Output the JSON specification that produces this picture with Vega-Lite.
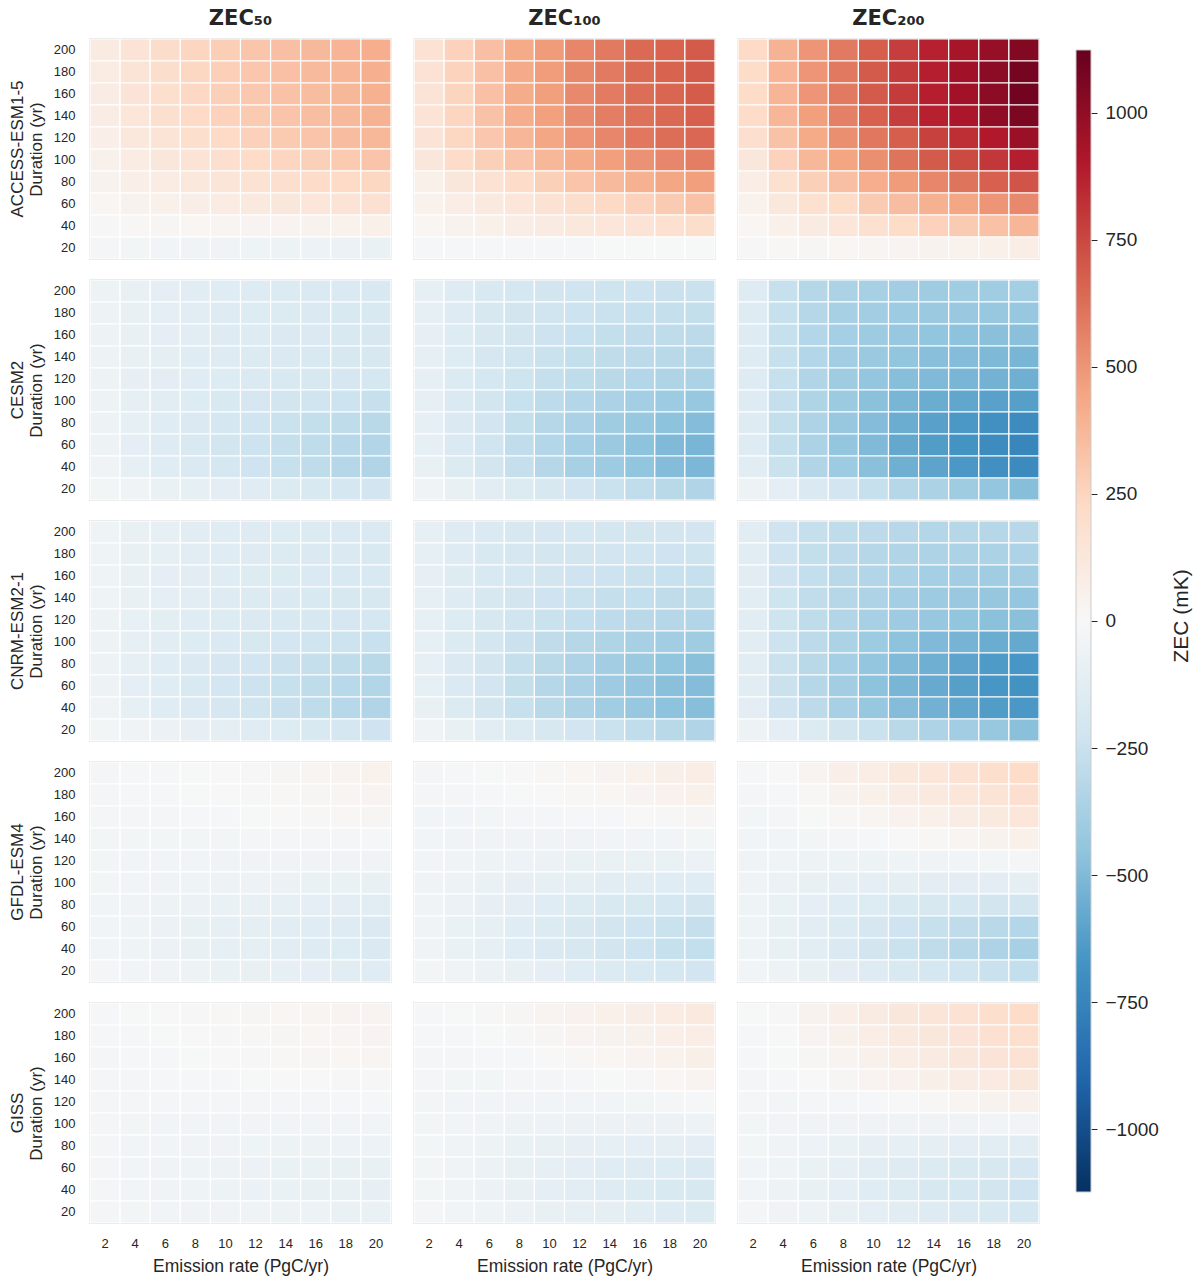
{
"$schema":"https://vega.github.io/schema/vega-lite/v6.json",
"padding":{"left":9,"top":8,"right":5,"bottom":5},
"background":"white",
"config":{"view":{"stroke":"#cccccc","strokeWidth":1.5},"font":"Liberation Sans","axis":{"labelFont":"Liberation Sans","titleFont":"Liberation Sans","labelColor":"#262626","titleColor":"#262626","titleFontWeight":"normal","grid":false}},
"spacing":34,
"hconcat":[
{
"data":{"values":[
{"p":1,"d":200,"e":2,"v":100},{"p":1,"d":200,"e":4,"v":160},{"p":1,"d":200,"e":6,"v":205},{"p":1,"d":200,"e":8,"v":245},{"p":1,"d":200,"e":10,"v":280},{"p":1,"d":200,"e":12,"v":315},{"p":1,"d":200,"e":14,"v":340},{"p":1,"d":200,"e":16,"v":365},{"p":1,"d":200,"e":18,"v":385},{"p":1,"d":200,"e":20,"v":410},
{"p":1,"d":180,"e":2,"v":95},{"p":1,"d":180,"e":4,"v":155},{"p":1,"d":180,"e":6,"v":200},{"p":1,"d":180,"e":8,"v":240},{"p":1,"d":180,"e":10,"v":275},{"p":1,"d":180,"e":12,"v":310},{"p":1,"d":180,"e":14,"v":335},{"p":1,"d":180,"e":16,"v":360},{"p":1,"d":180,"e":18,"v":380},{"p":1,"d":180,"e":20,"v":405},
{"p":1,"d":160,"e":2,"v":90},{"p":1,"d":160,"e":4,"v":150},{"p":1,"d":160,"e":6,"v":195},{"p":1,"d":160,"e":8,"v":235},{"p":1,"d":160,"e":10,"v":270},{"p":1,"d":160,"e":12,"v":305},{"p":1,"d":160,"e":14,"v":330},{"p":1,"d":160,"e":16,"v":355},{"p":1,"d":160,"e":18,"v":375},{"p":1,"d":160,"e":20,"v":400},
{"p":1,"d":140,"e":2,"v":85},{"p":1,"d":140,"e":4,"v":140},{"p":1,"d":140,"e":6,"v":185},{"p":1,"d":140,"e":8,"v":225},{"p":1,"d":140,"e":10,"v":260},{"p":1,"d":140,"e":12,"v":295},{"p":1,"d":140,"e":14,"v":320},{"p":1,"d":140,"e":16,"v":345},{"p":1,"d":140,"e":18,"v":365},{"p":1,"d":140,"e":20,"v":390},
{"p":1,"d":120,"e":2,"v":70},{"p":1,"d":120,"e":4,"v":120},{"p":1,"d":120,"e":6,"v":160},{"p":1,"d":120,"e":8,"v":195},{"p":1,"d":120,"e":10,"v":225},{"p":1,"d":120,"e":12,"v":265},{"p":1,"d":120,"e":14,"v":295},{"p":1,"d":120,"e":16,"v":320},{"p":1,"d":120,"e":18,"v":350},{"p":1,"d":120,"e":20,"v":370},
{"p":1,"d":100,"e":2,"v":55},{"p":1,"d":100,"e":4,"v":95},{"p":1,"d":100,"e":6,"v":130},{"p":1,"d":100,"e":8,"v":160},{"p":1,"d":100,"e":10,"v":190},{"p":1,"d":100,"e":12,"v":220},{"p":1,"d":100,"e":14,"v":245},{"p":1,"d":100,"e":16,"v":270},{"p":1,"d":100,"e":18,"v":295},{"p":1,"d":100,"e":20,"v":320},
{"p":1,"d":80,"e":2,"v":40},{"p":1,"d":80,"e":4,"v":70},{"p":1,"d":80,"e":6,"v":95},{"p":1,"d":80,"e":8,"v":120},{"p":1,"d":80,"e":10,"v":145},{"p":1,"d":80,"e":12,"v":170},{"p":1,"d":80,"e":14,"v":190},{"p":1,"d":80,"e":16,"v":210},{"p":1,"d":80,"e":18,"v":225},{"p":1,"d":80,"e":20,"v":240},
{"p":1,"d":60,"e":2,"v":20},{"p":1,"d":60,"e":4,"v":40},{"p":1,"d":60,"e":6,"v":60},{"p":1,"d":60,"e":8,"v":75},{"p":1,"d":60,"e":10,"v":95},{"p":1,"d":60,"e":12,"v":110},{"p":1,"d":60,"e":14,"v":125},{"p":1,"d":60,"e":16,"v":140},{"p":1,"d":60,"e":18,"v":160},{"p":1,"d":60,"e":20,"v":175},
{"p":1,"d":40,"e":2,"v":5},{"p":1,"d":40,"e":4,"v":10},{"p":1,"d":40,"e":6,"v":15},{"p":1,"d":40,"e":8,"v":20},{"p":1,"d":40,"e":10,"v":25},{"p":1,"d":40,"e":12,"v":30},{"p":1,"d":40,"e":14,"v":35},{"p":1,"d":40,"e":16,"v":40},{"p":1,"d":40,"e":18,"v":50},{"p":1,"d":40,"e":20,"v":60},
{"p":1,"d":20,"e":2,"v":-20},{"p":1,"d":20,"e":4,"v":-30},{"p":1,"d":20,"e":6,"v":-35},{"p":1,"d":20,"e":8,"v":-45},{"p":1,"d":20,"e":10,"v":-50},{"p":1,"d":20,"e":12,"v":-55},{"p":1,"d":20,"e":14,"v":-60},{"p":1,"d":20,"e":16,"v":-65},{"p":1,"d":20,"e":18,"v":-70},{"p":1,"d":20,"e":20,"v":-75},
{"p":2,"d":200,"e":2,"v":170},{"p":2,"d":200,"e":4,"v":260},{"p":2,"d":200,"e":6,"v":340},{"p":2,"d":200,"e":8,"v":430},{"p":2,"d":200,"e":10,"v":480},{"p":2,"d":200,"e":12,"v":550},{"p":2,"d":200,"e":14,"v":590},{"p":2,"d":200,"e":16,"v":640},{"p":2,"d":200,"e":18,"v":660},{"p":2,"d":200,"e":20,"v":690},
{"p":2,"d":180,"e":2,"v":165},{"p":2,"d":180,"e":4,"v":255},{"p":2,"d":180,"e":6,"v":335},{"p":2,"d":180,"e":8,"v":425},{"p":2,"d":180,"e":10,"v":475},{"p":2,"d":180,"e":12,"v":545},{"p":2,"d":180,"e":14,"v":590},{"p":2,"d":180,"e":16,"v":640},{"p":2,"d":180,"e":18,"v":660},{"p":2,"d":180,"e":20,"v":690},
{"p":2,"d":160,"e":2,"v":160},{"p":2,"d":160,"e":4,"v":250},{"p":2,"d":160,"e":6,"v":335},{"p":2,"d":160,"e":8,"v":420},{"p":2,"d":160,"e":10,"v":470},{"p":2,"d":160,"e":12,"v":540},{"p":2,"d":160,"e":14,"v":585},{"p":2,"d":160,"e":16,"v":630},{"p":2,"d":160,"e":18,"v":655},{"p":2,"d":160,"e":20,"v":685},
{"p":2,"d":140,"e":2,"v":155},{"p":2,"d":140,"e":4,"v":245},{"p":2,"d":140,"e":6,"v":330},{"p":2,"d":140,"e":8,"v":415},{"p":2,"d":140,"e":10,"v":465},{"p":2,"d":140,"e":12,"v":535},{"p":2,"d":140,"e":14,"v":575},{"p":2,"d":140,"e":16,"v":620},{"p":2,"d":140,"e":18,"v":645},{"p":2,"d":140,"e":20,"v":675},
{"p":2,"d":120,"e":2,"v":150},{"p":2,"d":120,"e":4,"v":240},{"p":2,"d":120,"e":6,"v":310},{"p":2,"d":120,"e":8,"v":380},{"p":2,"d":120,"e":10,"v":440},{"p":2,"d":120,"e":12,"v":500},{"p":2,"d":120,"e":14,"v":550},{"p":2,"d":120,"e":16,"v":600},{"p":2,"d":120,"e":18,"v":630},{"p":2,"d":120,"e":20,"v":650},
{"p":2,"d":100,"e":2,"v":130},{"p":2,"d":100,"e":4,"v":210},{"p":2,"d":100,"e":6,"v":270},{"p":2,"d":100,"e":8,"v":320},{"p":2,"d":100,"e":10,"v":370},{"p":2,"d":100,"e":12,"v":420},{"p":2,"d":100,"e":14,"v":470},{"p":2,"d":100,"e":16,"v":510},{"p":2,"d":100,"e":18,"v":550},{"p":2,"d":100,"e":20,"v":580},
{"p":2,"d":80,"e":2,"v":60},{"p":2,"d":80,"e":4,"v":130},{"p":2,"d":80,"e":6,"v":170},{"p":2,"d":80,"e":8,"v":210},{"p":2,"d":80,"e":10,"v":270},{"p":2,"d":80,"e":12,"v":320},{"p":2,"d":80,"e":14,"v":360},{"p":2,"d":80,"e":16,"v":400},{"p":2,"d":80,"e":18,"v":440},{"p":2,"d":80,"e":20,"v":470},
{"p":2,"d":60,"e":2,"v":50},{"p":2,"d":60,"e":4,"v":80},{"p":2,"d":60,"e":6,"v":110},{"p":2,"d":60,"e":8,"v":140},{"p":2,"d":60,"e":10,"v":170},{"p":2,"d":60,"e":12,"v":200},{"p":2,"d":60,"e":14,"v":230},{"p":2,"d":60,"e":16,"v":260},{"p":2,"d":60,"e":18,"v":290},{"p":2,"d":60,"e":20,"v":330},
{"p":2,"d":40,"e":2,"v":20},{"p":2,"d":40,"e":4,"v":40},{"p":2,"d":40,"e":6,"v":60},{"p":2,"d":40,"e":8,"v":80},{"p":2,"d":40,"e":10,"v":100},{"p":2,"d":40,"e":12,"v":120},{"p":2,"d":40,"e":14,"v":140},{"p":2,"d":40,"e":16,"v":160},{"p":2,"d":40,"e":18,"v":180},{"p":2,"d":40,"e":20,"v":200},
{"p":2,"d":20,"e":2,"v":-10},{"p":2,"d":20,"e":4,"v":-10},{"p":2,"d":20,"e":6,"v":-10},{"p":2,"d":20,"e":8,"v":-10},{"p":2,"d":20,"e":10,"v":-10},{"p":2,"d":20,"e":12,"v":-10},{"p":2,"d":20,"e":14,"v":-5},{"p":2,"d":20,"e":16,"v":-5},{"p":2,"d":20,"e":18,"v":-5},{"p":2,"d":20,"e":20,"v":-5},
{"p":3,"d":200,"e":2,"v":225},{"p":3,"d":200,"e":4,"v":390},{"p":3,"d":200,"e":6,"v":500},{"p":3,"d":200,"e":8,"v":590},{"p":3,"d":200,"e":10,"v":680},{"p":3,"d":200,"e":12,"v":780},{"p":3,"d":200,"e":14,"v":870},{"p":3,"d":200,"e":16,"v":930},{"p":3,"d":200,"e":18,"v":980},{"p":3,"d":200,"e":20,"v":1040},
{"p":3,"d":180,"e":2,"v":220},{"p":3,"d":180,"e":4,"v":385},{"p":3,"d":180,"e":6,"v":500},{"p":3,"d":180,"e":8,"v":595},{"p":3,"d":180,"e":10,"v":690},{"p":3,"d":180,"e":12,"v":790},{"p":3,"d":180,"e":14,"v":880},{"p":3,"d":180,"e":16,"v":950},{"p":3,"d":180,"e":18,"v":1010},{"p":3,"d":180,"e":20,"v":1080},
{"p":3,"d":160,"e":2,"v":220},{"p":3,"d":160,"e":4,"v":385},{"p":3,"d":160,"e":6,"v":500},{"p":3,"d":160,"e":8,"v":590},{"p":3,"d":160,"e":10,"v":690},{"p":3,"d":160,"e":12,"v":790},{"p":3,"d":160,"e":14,"v":880},{"p":3,"d":160,"e":16,"v":950},{"p":3,"d":160,"e":18,"v":1010},{"p":3,"d":160,"e":20,"v":1090},
{"p":3,"d":140,"e":2,"v":215},{"p":3,"d":140,"e":4,"v":380},{"p":3,"d":140,"e":6,"v":470},{"p":3,"d":140,"e":8,"v":570},{"p":3,"d":140,"e":10,"v":670},{"p":3,"d":140,"e":12,"v":780},{"p":3,"d":140,"e":14,"v":870},{"p":3,"d":140,"e":16,"v":920},{"p":3,"d":140,"e":18,"v":1000},{"p":3,"d":140,"e":20,"v":1060},
{"p":3,"d":120,"e":2,"v":190},{"p":3,"d":120,"e":4,"v":330},{"p":3,"d":120,"e":6,"v":430},{"p":3,"d":120,"e":8,"v":520},{"p":3,"d":120,"e":10,"v":600},{"p":3,"d":120,"e":12,"v":680},{"p":3,"d":120,"e":14,"v":770},{"p":3,"d":120,"e":16,"v":830},{"p":3,"d":120,"e":18,"v":900},{"p":3,"d":120,"e":20,"v":970},
{"p":3,"d":100,"e":2,"v":130},{"p":3,"d":100,"e":4,"v":260},{"p":3,"d":100,"e":6,"v":370},{"p":3,"d":100,"e":8,"v":450},{"p":3,"d":100,"e":10,"v":520},{"p":3,"d":100,"e":12,"v":610},{"p":3,"d":100,"e":14,"v":690},{"p":3,"d":100,"e":16,"v":740},{"p":3,"d":100,"e":18,"v":800},{"p":3,"d":100,"e":20,"v":880},
{"p":3,"d":80,"e":2,"v":80},{"p":3,"d":80,"e":4,"v":180},{"p":3,"d":80,"e":6,"v":270},{"p":3,"d":80,"e":8,"v":340},{"p":3,"d":80,"e":10,"v":410},{"p":3,"d":80,"e":12,"v":480},{"p":3,"d":80,"e":14,"v":550},{"p":3,"d":80,"e":16,"v":610},{"p":3,"d":80,"e":18,"v":670},{"p":3,"d":80,"e":20,"v":710},
{"p":3,"d":60,"e":2,"v":50},{"p":3,"d":60,"e":4,"v":120},{"p":3,"d":60,"e":6,"v":180},{"p":3,"d":60,"e":8,"v":220},{"p":3,"d":60,"e":10,"v":290},{"p":3,"d":60,"e":12,"v":350},{"p":3,"d":60,"e":14,"v":400},{"p":3,"d":60,"e":16,"v":440},{"p":3,"d":60,"e":18,"v":500},{"p":3,"d":60,"e":20,"v":540},
{"p":3,"d":40,"e":2,"v":20},{"p":3,"d":40,"e":4,"v":60},{"p":3,"d":40,"e":6,"v":100},{"p":3,"d":40,"e":8,"v":140},{"p":3,"d":40,"e":10,"v":180},{"p":3,"d":40,"e":12,"v":220},{"p":3,"d":40,"e":14,"v":260},{"p":3,"d":40,"e":16,"v":290},{"p":3,"d":40,"e":18,"v":330},{"p":3,"d":40,"e":20,"v":380},
{"p":3,"d":20,"e":2,"v":5},{"p":3,"d":20,"e":4,"v":10},{"p":3,"d":20,"e":6,"v":15},{"p":3,"d":20,"e":8,"v":20},{"p":3,"d":20,"e":10,"v":25},{"p":3,"d":20,"e":12,"v":30},{"p":3,"d":20,"e":14,"v":40},{"p":3,"d":20,"e":16,"v":50},{"p":3,"d":20,"e":18,"v":60},{"p":3,"d":20,"e":20,"v":80},
{"p":4,"d":200,"e":2,"v":-60},{"p":4,"d":200,"e":4,"v":-90},{"p":4,"d":200,"e":6,"v":-110},{"p":4,"d":200,"e":8,"v":-130},{"p":4,"d":200,"e":10,"v":-140},{"p":4,"d":200,"e":12,"v":-150},{"p":4,"d":200,"e":14,"v":-160},{"p":4,"d":200,"e":16,"v":-165},{"p":4,"d":200,"e":18,"v":-170},{"p":4,"d":200,"e":20,"v":-175},
{"p":4,"d":180,"e":2,"v":-60},{"p":4,"d":180,"e":4,"v":-90},{"p":4,"d":180,"e":6,"v":-110},{"p":4,"d":180,"e":8,"v":-130},{"p":4,"d":180,"e":10,"v":-145},{"p":4,"d":180,"e":12,"v":-155},{"p":4,"d":180,"e":14,"v":-160},{"p":4,"d":180,"e":16,"v":-170},{"p":4,"d":180,"e":18,"v":-175},{"p":4,"d":180,"e":20,"v":-180},
{"p":4,"d":160,"e":2,"v":-60},{"p":4,"d":160,"e":4,"v":-90},{"p":4,"d":160,"e":6,"v":-110},{"p":4,"d":160,"e":8,"v":-130},{"p":4,"d":160,"e":10,"v":-145},{"p":4,"d":160,"e":12,"v":-155},{"p":4,"d":160,"e":14,"v":-165},{"p":4,"d":160,"e":16,"v":-170},{"p":4,"d":160,"e":18,"v":-180},{"p":4,"d":160,"e":20,"v":-185},
{"p":4,"d":140,"e":2,"v":-60},{"p":4,"d":140,"e":4,"v":-90},{"p":4,"d":140,"e":6,"v":-115},{"p":4,"d":140,"e":8,"v":-135},{"p":4,"d":140,"e":10,"v":-150},{"p":4,"d":140,"e":12,"v":-160},{"p":4,"d":140,"e":14,"v":-170},{"p":4,"d":140,"e":16,"v":-180},{"p":4,"d":140,"e":18,"v":-185},{"p":4,"d":140,"e":20,"v":-190},
{"p":4,"d":120,"e":2,"v":-60},{"p":4,"d":120,"e":4,"v":-95},{"p":4,"d":120,"e":6,"v":-120},{"p":4,"d":120,"e":8,"v":-140},{"p":4,"d":120,"e":10,"v":-155},{"p":4,"d":120,"e":12,"v":-170},{"p":4,"d":120,"e":14,"v":-180},{"p":4,"d":120,"e":16,"v":-190},{"p":4,"d":120,"e":18,"v":-195},{"p":4,"d":120,"e":20,"v":-200},
{"p":4,"d":100,"e":2,"v":-60},{"p":4,"d":100,"e":4,"v":-100},{"p":4,"d":100,"e":6,"v":-130},{"p":4,"d":100,"e":8,"v":-155},{"p":4,"d":100,"e":10,"v":-175},{"p":4,"d":100,"e":12,"v":-195},{"p":4,"d":100,"e":14,"v":-210},{"p":4,"d":100,"e":16,"v":-225},{"p":4,"d":100,"e":18,"v":-240},{"p":4,"d":100,"e":20,"v":-260},
{"p":4,"d":80,"e":2,"v":-60},{"p":4,"d":80,"e":4,"v":-105},{"p":4,"d":80,"e":6,"v":-140},{"p":4,"d":80,"e":8,"v":-170},{"p":4,"d":80,"e":10,"v":-200},{"p":4,"d":80,"e":12,"v":-225},{"p":4,"d":80,"e":14,"v":-250},{"p":4,"d":80,"e":16,"v":-270},{"p":4,"d":80,"e":18,"v":-290},{"p":4,"d":80,"e":20,"v":-310},
{"p":4,"d":60,"e":2,"v":-60},{"p":4,"d":60,"e":4,"v":-110},{"p":4,"d":60,"e":6,"v":-145},{"p":4,"d":60,"e":8,"v":-180},{"p":4,"d":60,"e":10,"v":-210},{"p":4,"d":60,"e":12,"v":-240},{"p":4,"d":60,"e":14,"v":-265},{"p":4,"d":60,"e":16,"v":-290},{"p":4,"d":60,"e":18,"v":-315},{"p":4,"d":60,"e":20,"v":-335},
{"p":4,"d":40,"e":2,"v":-50},{"p":4,"d":40,"e":4,"v":-100},{"p":4,"d":40,"e":6,"v":-135},{"p":4,"d":40,"e":8,"v":-170},{"p":4,"d":40,"e":10,"v":-200},{"p":4,"d":40,"e":12,"v":-230},{"p":4,"d":40,"e":14,"v":-260},{"p":4,"d":40,"e":16,"v":-290},{"p":4,"d":40,"e":18,"v":-320},{"p":4,"d":40,"e":20,"v":-340},
{"p":4,"d":20,"e":2,"v":-30},{"p":4,"d":20,"e":4,"v":-50},{"p":4,"d":20,"e":6,"v":-75},{"p":4,"d":20,"e":8,"v":-100},{"p":4,"d":20,"e":10,"v":-120},{"p":4,"d":20,"e":12,"v":-140},{"p":4,"d":20,"e":14,"v":-160},{"p":4,"d":20,"e":16,"v":-180},{"p":4,"d":20,"e":18,"v":-200},{"p":4,"d":20,"e":20,"v":-220},
{"p":5,"d":200,"e":2,"v":-100},{"p":5,"d":200,"e":4,"v":-150},{"p":5,"d":200,"e":6,"v":-180},{"p":5,"d":200,"e":8,"v":-200},{"p":5,"d":200,"e":10,"v":-215},{"p":5,"d":200,"e":12,"v":-225},{"p":5,"d":200,"e":14,"v":-235},{"p":5,"d":200,"e":16,"v":-240},{"p":5,"d":200,"e":18,"v":-245},{"p":5,"d":200,"e":20,"v":-250},
{"p":5,"d":180,"e":2,"v":-100},{"p":5,"d":180,"e":4,"v":-150},{"p":5,"d":180,"e":6,"v":-185},{"p":5,"d":180,"e":8,"v":-210},{"p":5,"d":180,"e":10,"v":-225},{"p":5,"d":180,"e":12,"v":-240},{"p":5,"d":180,"e":14,"v":-250},{"p":5,"d":180,"e":16,"v":-260},{"p":5,"d":180,"e":18,"v":-265},{"p":5,"d":180,"e":20,"v":-270},
{"p":5,"d":160,"e":2,"v":-100},{"p":5,"d":160,"e":4,"v":-155},{"p":5,"d":160,"e":6,"v":-190},{"p":5,"d":160,"e":8,"v":-215},{"p":5,"d":160,"e":10,"v":-240},{"p":5,"d":160,"e":12,"v":-255},{"p":5,"d":160,"e":14,"v":-270},{"p":5,"d":160,"e":16,"v":-280},{"p":5,"d":160,"e":18,"v":-290},{"p":5,"d":160,"e":20,"v":-300},
{"p":5,"d":140,"e":2,"v":-100},{"p":5,"d":140,"e":4,"v":-155},{"p":5,"d":140,"e":6,"v":-195},{"p":5,"d":140,"e":8,"v":-225},{"p":5,"d":140,"e":10,"v":-250},{"p":5,"d":140,"e":12,"v":-270},{"p":5,"d":140,"e":14,"v":-285},{"p":5,"d":140,"e":16,"v":-300},{"p":5,"d":140,"e":18,"v":-310},{"p":5,"d":140,"e":20,"v":-320},
{"p":5,"d":120,"e":2,"v":-100},{"p":5,"d":120,"e":4,"v":-160},{"p":5,"d":120,"e":6,"v":-200},{"p":5,"d":120,"e":8,"v":-235},{"p":5,"d":120,"e":10,"v":-265},{"p":5,"d":120,"e":12,"v":-290},{"p":5,"d":120,"e":14,"v":-310},{"p":5,"d":120,"e":16,"v":-330},{"p":5,"d":120,"e":18,"v":-345},{"p":5,"d":120,"e":20,"v":-360},
{"p":5,"d":100,"e":2,"v":-100},{"p":5,"d":100,"e":4,"v":-165},{"p":5,"d":100,"e":6,"v":-210},{"p":5,"d":100,"e":8,"v":-255},{"p":5,"d":100,"e":10,"v":-295},{"p":5,"d":100,"e":12,"v":-330},{"p":5,"d":100,"e":14,"v":-360},{"p":5,"d":100,"e":16,"v":-385},{"p":5,"d":100,"e":18,"v":-410},{"p":5,"d":100,"e":20,"v":-430},
{"p":5,"d":80,"e":2,"v":-100},{"p":5,"d":80,"e":4,"v":-170},{"p":5,"d":80,"e":6,"v":-220},{"p":5,"d":80,"e":8,"v":-270},{"p":5,"d":80,"e":10,"v":-320},{"p":5,"d":80,"e":12,"v":-365},{"p":5,"d":80,"e":14,"v":-400},{"p":5,"d":80,"e":16,"v":-430},{"p":5,"d":80,"e":18,"v":-460},{"p":5,"d":80,"e":20,"v":-490},
{"p":5,"d":60,"e":2,"v":-100},{"p":5,"d":60,"e":4,"v":-170},{"p":5,"d":60,"e":6,"v":-225},{"p":5,"d":60,"e":8,"v":-280},{"p":5,"d":60,"e":10,"v":-330},{"p":5,"d":60,"e":12,"v":-380},{"p":5,"d":60,"e":14,"v":-420},{"p":5,"d":60,"e":16,"v":-460},{"p":5,"d":60,"e":18,"v":-500},{"p":5,"d":60,"e":20,"v":-520},
{"p":5,"d":40,"e":2,"v":-90},{"p":5,"d":40,"e":4,"v":-160},{"p":5,"d":40,"e":6,"v":-215},{"p":5,"d":40,"e":8,"v":-265},{"p":5,"d":40,"e":10,"v":-320},{"p":5,"d":40,"e":12,"v":-370},{"p":5,"d":40,"e":14,"v":-410},{"p":5,"d":40,"e":16,"v":-450},{"p":5,"d":40,"e":18,"v":-490},{"p":5,"d":40,"e":20,"v":-510},
{"p":5,"d":20,"e":2,"v":-50},{"p":5,"d":20,"e":4,"v":-90},{"p":5,"d":20,"e":6,"v":-130},{"p":5,"d":20,"e":8,"v":-160},{"p":5,"d":20,"e":10,"v":-190},{"p":5,"d":20,"e":12,"v":-220},{"p":5,"d":20,"e":14,"v":-250},{"p":5,"d":20,"e":16,"v":-280},{"p":5,"d":20,"e":18,"v":-310},{"p":5,"d":20,"e":20,"v":-340},
{"p":6,"d":200,"e":2,"v":-150},{"p":6,"d":200,"e":4,"v":-260},{"p":6,"d":200,"e":6,"v":-320},{"p":6,"d":200,"e":8,"v":-360},{"p":6,"d":200,"e":10,"v":-375},{"p":6,"d":200,"e":12,"v":-390},{"p":6,"d":200,"e":14,"v":-400},{"p":6,"d":200,"e":16,"v":-395},{"p":6,"d":200,"e":18,"v":-395},{"p":6,"d":200,"e":20,"v":-385},
{"p":6,"d":180,"e":2,"v":-150},{"p":6,"d":180,"e":4,"v":-260},{"p":6,"d":180,"e":6,"v":-325},{"p":6,"d":180,"e":8,"v":-370},{"p":6,"d":180,"e":10,"v":-390},{"p":6,"d":180,"e":12,"v":-410},{"p":6,"d":180,"e":14,"v":-420},{"p":6,"d":180,"e":16,"v":-425},{"p":6,"d":180,"e":18,"v":-430},{"p":6,"d":180,"e":20,"v":-430},
{"p":6,"d":160,"e":2,"v":-150},{"p":6,"d":160,"e":4,"v":-260},{"p":6,"d":160,"e":6,"v":-330},{"p":6,"d":160,"e":8,"v":-380},{"p":6,"d":160,"e":10,"v":-410},{"p":6,"d":160,"e":12,"v":-430},{"p":6,"d":160,"e":14,"v":-450},{"p":6,"d":160,"e":16,"v":-460},{"p":6,"d":160,"e":18,"v":-470},{"p":6,"d":160,"e":20,"v":-470},
{"p":6,"d":140,"e":2,"v":-150},{"p":6,"d":140,"e":4,"v":-260},{"p":6,"d":140,"e":6,"v":-330},{"p":6,"d":140,"e":8,"v":-390},{"p":6,"d":140,"e":10,"v":-420},{"p":6,"d":140,"e":12,"v":-450},{"p":6,"d":140,"e":14,"v":-475},{"p":6,"d":140,"e":16,"v":-490},{"p":6,"d":140,"e":18,"v":-505},{"p":6,"d":140,"e":20,"v":-520},
{"p":6,"d":120,"e":2,"v":-150},{"p":6,"d":120,"e":4,"v":-260},{"p":6,"d":120,"e":6,"v":-340},{"p":6,"d":120,"e":8,"v":-400},{"p":6,"d":120,"e":10,"v":-440},{"p":6,"d":120,"e":12,"v":-480},{"p":6,"d":120,"e":14,"v":-500},{"p":6,"d":120,"e":16,"v":-520},{"p":6,"d":120,"e":18,"v":-535},{"p":6,"d":120,"e":20,"v":-550},
{"p":6,"d":100,"e":2,"v":-150},{"p":6,"d":100,"e":4,"v":-265},{"p":6,"d":100,"e":6,"v":-345},{"p":6,"d":100,"e":8,"v":-415},{"p":6,"d":100,"e":10,"v":-465},{"p":6,"d":100,"e":12,"v":-520},{"p":6,"d":100,"e":14,"v":-560},{"p":6,"d":100,"e":16,"v":-590},{"p":6,"d":100,"e":18,"v":-610},{"p":6,"d":100,"e":20,"v":-620},
{"p":6,"d":80,"e":2,"v":-150},{"p":6,"d":80,"e":4,"v":-270},{"p":6,"d":80,"e":6,"v":-350},{"p":6,"d":80,"e":8,"v":-430},{"p":6,"d":80,"e":10,"v":-490},{"p":6,"d":80,"e":12,"v":-560},{"p":6,"d":80,"e":14,"v":-610},{"p":6,"d":80,"e":16,"v":-650},{"p":6,"d":80,"e":18,"v":-690},{"p":6,"d":80,"e":20,"v":-710},
{"p":6,"d":60,"e":2,"v":-150},{"p":6,"d":60,"e":4,"v":-270},{"p":6,"d":60,"e":6,"v":-355},{"p":6,"d":60,"e":8,"v":-440},{"p":6,"d":60,"e":10,"v":-500},{"p":6,"d":60,"e":12,"v":-580},{"p":6,"d":60,"e":14,"v":-630},{"p":6,"d":60,"e":16,"v":-670},{"p":6,"d":60,"e":18,"v":-710},{"p":6,"d":60,"e":20,"v":-740},
{"p":6,"d":40,"e":2,"v":-130},{"p":6,"d":40,"e":4,"v":-250},{"p":6,"d":40,"e":6,"v":-340},{"p":6,"d":40,"e":8,"v":-410},{"p":6,"d":40,"e":10,"v":-470},{"p":6,"d":40,"e":12,"v":-550},{"p":6,"d":40,"e":14,"v":-600},{"p":6,"d":40,"e":16,"v":-650},{"p":6,"d":40,"e":18,"v":-690},{"p":6,"d":40,"e":20,"v":-720},
{"p":6,"d":20,"e":2,"v":-60},{"p":6,"d":20,"e":4,"v":-110},{"p":6,"d":20,"e":6,"v":-170},{"p":6,"d":20,"e":8,"v":-220},{"p":6,"d":20,"e":10,"v":-260},{"p":6,"d":20,"e":12,"v":-320},{"p":6,"d":20,"e":14,"v":-360},{"p":6,"d":20,"e":16,"v":-400},{"p":6,"d":20,"e":18,"v":-440},{"p":6,"d":20,"e":20,"v":-480},
{"p":7,"d":200,"e":2,"v":-55},{"p":7,"d":200,"e":4,"v":-85},{"p":7,"d":200,"e":6,"v":-105},{"p":7,"d":200,"e":8,"v":-125},{"p":7,"d":200,"e":10,"v":-135},{"p":7,"d":200,"e":12,"v":-145},{"p":7,"d":200,"e":14,"v":-155},{"p":7,"d":200,"e":16,"v":-160},{"p":7,"d":200,"e":18,"v":-165},{"p":7,"d":200,"e":20,"v":-170},
{"p":7,"d":180,"e":2,"v":-55},{"p":7,"d":180,"e":4,"v":-85},{"p":7,"d":180,"e":6,"v":-105},{"p":7,"d":180,"e":8,"v":-125},{"p":7,"d":180,"e":10,"v":-140},{"p":7,"d":180,"e":12,"v":-150},{"p":7,"d":180,"e":14,"v":-158},{"p":7,"d":180,"e":16,"v":-165},{"p":7,"d":180,"e":18,"v":-170},{"p":7,"d":180,"e":20,"v":-175},
{"p":7,"d":160,"e":2,"v":-55},{"p":7,"d":160,"e":4,"v":-85},{"p":7,"d":160,"e":6,"v":-108},{"p":7,"d":160,"e":8,"v":-128},{"p":7,"d":160,"e":10,"v":-142},{"p":7,"d":160,"e":12,"v":-152},{"p":7,"d":160,"e":14,"v":-162},{"p":7,"d":160,"e":16,"v":-168},{"p":7,"d":160,"e":18,"v":-175},{"p":7,"d":160,"e":20,"v":-180},
{"p":7,"d":140,"e":2,"v":-55},{"p":7,"d":140,"e":4,"v":-88},{"p":7,"d":140,"e":6,"v":-112},{"p":7,"d":140,"e":8,"v":-132},{"p":7,"d":140,"e":10,"v":-148},{"p":7,"d":140,"e":12,"v":-158},{"p":7,"d":140,"e":14,"v":-168},{"p":7,"d":140,"e":16,"v":-175},{"p":7,"d":140,"e":18,"v":-182},{"p":7,"d":140,"e":20,"v":-188},
{"p":7,"d":120,"e":2,"v":-58},{"p":7,"d":120,"e":4,"v":-92},{"p":7,"d":120,"e":6,"v":-118},{"p":7,"d":120,"e":8,"v":-138},{"p":7,"d":120,"e":10,"v":-155},{"p":7,"d":120,"e":12,"v":-168},{"p":7,"d":120,"e":14,"v":-178},{"p":7,"d":120,"e":16,"v":-188},{"p":7,"d":120,"e":18,"v":-195},{"p":7,"d":120,"e":20,"v":-200},
{"p":7,"d":100,"e":2,"v":-60},{"p":7,"d":100,"e":4,"v":-98},{"p":7,"d":100,"e":6,"v":-128},{"p":7,"d":100,"e":8,"v":-152},{"p":7,"d":100,"e":10,"v":-172},{"p":7,"d":100,"e":12,"v":-192},{"p":7,"d":100,"e":14,"v":-208},{"p":7,"d":100,"e":16,"v":-222},{"p":7,"d":100,"e":18,"v":-238},{"p":7,"d":100,"e":20,"v":-255},
{"p":7,"d":80,"e":2,"v":-60},{"p":7,"d":80,"e":4,"v":-103},{"p":7,"d":80,"e":6,"v":-138},{"p":7,"d":80,"e":8,"v":-168},{"p":7,"d":80,"e":10,"v":-195},{"p":7,"d":80,"e":12,"v":-220},{"p":7,"d":80,"e":14,"v":-245},{"p":7,"d":80,"e":16,"v":-268},{"p":7,"d":80,"e":18,"v":-290},{"p":7,"d":80,"e":20,"v":-310},
{"p":7,"d":60,"e":2,"v":-60},{"p":7,"d":60,"e":4,"v":-108},{"p":7,"d":60,"e":6,"v":-143},{"p":7,"d":60,"e":8,"v":-178},{"p":7,"d":60,"e":10,"v":-208},{"p":7,"d":60,"e":12,"v":-238},{"p":7,"d":60,"e":14,"v":-262},{"p":7,"d":60,"e":16,"v":-288},{"p":7,"d":60,"e":18,"v":-312},{"p":7,"d":60,"e":20,"v":-335},
{"p":7,"d":40,"e":2,"v":-50},{"p":7,"d":40,"e":4,"v":-98},{"p":7,"d":40,"e":6,"v":-133},{"p":7,"d":40,"e":8,"v":-168},{"p":7,"d":40,"e":10,"v":-198},{"p":7,"d":40,"e":12,"v":-228},{"p":7,"d":40,"e":14,"v":-258},{"p":7,"d":40,"e":16,"v":-288},{"p":7,"d":40,"e":18,"v":-318},{"p":7,"d":40,"e":20,"v":-340},
{"p":7,"d":20,"e":2,"v":-28},{"p":7,"d":20,"e":4,"v":-48},{"p":7,"d":20,"e":6,"v":-72},{"p":7,"d":20,"e":8,"v":-95},{"p":7,"d":20,"e":10,"v":-115},{"p":7,"d":20,"e":12,"v":-135},{"p":7,"d":20,"e":14,"v":-155},{"p":7,"d":20,"e":16,"v":-175},{"p":7,"d":20,"e":18,"v":-200},{"p":7,"d":20,"e":20,"v":-230},
{"p":8,"d":200,"e":2,"v":-100},{"p":8,"d":200,"e":4,"v":-145},{"p":8,"d":200,"e":6,"v":-170},{"p":8,"d":200,"e":8,"v":-185},{"p":8,"d":200,"e":10,"v":-195},{"p":8,"d":200,"e":12,"v":-200},{"p":8,"d":200,"e":14,"v":-205},{"p":8,"d":200,"e":16,"v":-210},{"p":8,"d":200,"e":18,"v":-215},{"p":8,"d":200,"e":20,"v":-220},
{"p":8,"d":180,"e":2,"v":-100},{"p":8,"d":180,"e":4,"v":-150},{"p":8,"d":180,"e":6,"v":-175},{"p":8,"d":180,"e":8,"v":-195},{"p":8,"d":180,"e":10,"v":-205},{"p":8,"d":180,"e":12,"v":-215},{"p":8,"d":180,"e":14,"v":-220},{"p":8,"d":180,"e":16,"v":-225},{"p":8,"d":180,"e":18,"v":-230},{"p":8,"d":180,"e":20,"v":-235},
{"p":8,"d":160,"e":2,"v":-100},{"p":8,"d":160,"e":4,"v":-150},{"p":8,"d":160,"e":6,"v":-180},{"p":8,"d":160,"e":8,"v":-200},{"p":8,"d":160,"e":10,"v":-215},{"p":8,"d":160,"e":12,"v":-230},{"p":8,"d":160,"e":14,"v":-240},{"p":8,"d":160,"e":16,"v":-250},{"p":8,"d":160,"e":18,"v":-255},{"p":8,"d":160,"e":20,"v":-260},
{"p":8,"d":140,"e":2,"v":-100},{"p":8,"d":140,"e":4,"v":-150},{"p":8,"d":140,"e":6,"v":-185},{"p":8,"d":140,"e":8,"v":-210},{"p":8,"d":140,"e":10,"v":-230},{"p":8,"d":140,"e":12,"v":-250},{"p":8,"d":140,"e":14,"v":-265},{"p":8,"d":140,"e":16,"v":-275},{"p":8,"d":140,"e":18,"v":-285},{"p":8,"d":140,"e":20,"v":-290},
{"p":8,"d":120,"e":2,"v":-100},{"p":8,"d":120,"e":4,"v":-155},{"p":8,"d":120,"e":6,"v":-190},{"p":8,"d":120,"e":8,"v":-225},{"p":8,"d":120,"e":10,"v":-250},{"p":8,"d":120,"e":12,"v":-275},{"p":8,"d":120,"e":14,"v":-295},{"p":8,"d":120,"e":16,"v":-310},{"p":8,"d":120,"e":18,"v":-325},{"p":8,"d":120,"e":20,"v":-335},
{"p":8,"d":100,"e":2,"v":-100},{"p":8,"d":100,"e":4,"v":-160},{"p":8,"d":100,"e":6,"v":-205},{"p":8,"d":100,"e":8,"v":-245},{"p":8,"d":100,"e":10,"v":-285},{"p":8,"d":100,"e":12,"v":-320},{"p":8,"d":100,"e":14,"v":-345},{"p":8,"d":100,"e":16,"v":-370},{"p":8,"d":100,"e":18,"v":-390},{"p":8,"d":100,"e":20,"v":-400},
{"p":8,"d":80,"e":2,"v":-100},{"p":8,"d":80,"e":4,"v":-165},{"p":8,"d":80,"e":6,"v":-215},{"p":8,"d":80,"e":8,"v":-265},{"p":8,"d":80,"e":10,"v":-310},{"p":8,"d":80,"e":12,"v":-350},{"p":8,"d":80,"e":14,"v":-390},{"p":8,"d":80,"e":16,"v":-420},{"p":8,"d":80,"e":18,"v":-450},{"p":8,"d":80,"e":20,"v":-470},
{"p":8,"d":60,"e":2,"v":-100},{"p":8,"d":60,"e":4,"v":-165},{"p":8,"d":60,"e":6,"v":-220},{"p":8,"d":60,"e":8,"v":-270},{"p":8,"d":60,"e":10,"v":-320},{"p":8,"d":60,"e":12,"v":-365},{"p":8,"d":60,"e":14,"v":-405},{"p":8,"d":60,"e":16,"v":-440},{"p":8,"d":60,"e":18,"v":-470},{"p":8,"d":60,"e":20,"v":-490},
{"p":8,"d":40,"e":2,"v":-90},{"p":8,"d":40,"e":4,"v":-160},{"p":8,"d":40,"e":6,"v":-210},{"p":8,"d":40,"e":8,"v":-260},{"p":8,"d":40,"e":10,"v":-310},{"p":8,"d":40,"e":12,"v":-355},{"p":8,"d":40,"e":14,"v":-395},{"p":8,"d":40,"e":16,"v":-430},{"p":8,"d":40,"e":18,"v":-460},{"p":8,"d":40,"e":20,"v":-480},
{"p":8,"d":20,"e":2,"v":-50},{"p":8,"d":20,"e":4,"v":-90},{"p":8,"d":20,"e":6,"v":-130},{"p":8,"d":20,"e":8,"v":-160},{"p":8,"d":20,"e":10,"v":-190},{"p":8,"d":20,"e":12,"v":-220},{"p":8,"d":20,"e":14,"v":-250},{"p":8,"d":20,"e":16,"v":-280},{"p":8,"d":20,"e":18,"v":-310},{"p":8,"d":20,"e":20,"v":-340},
{"p":9,"d":200,"e":2,"v":-130},{"p":9,"d":200,"e":4,"v":-230},{"p":9,"d":200,"e":6,"v":-265},{"p":9,"d":200,"e":8,"v":-290},{"p":9,"d":200,"e":10,"v":-300},{"p":9,"d":200,"e":12,"v":-315},{"p":9,"d":200,"e":14,"v":-330},{"p":9,"d":200,"e":16,"v":-325},{"p":9,"d":200,"e":18,"v":-325},{"p":9,"d":200,"e":20,"v":-315},
{"p":9,"d":180,"e":2,"v":-130},{"p":9,"d":180,"e":4,"v":-230},{"p":9,"d":180,"e":6,"v":-270},{"p":9,"d":180,"e":8,"v":-300},{"p":9,"d":180,"e":10,"v":-320},{"p":9,"d":180,"e":12,"v":-340},{"p":9,"d":180,"e":14,"v":-350},{"p":9,"d":180,"e":16,"v":-355},{"p":9,"d":180,"e":18,"v":-355},{"p":9,"d":180,"e":20,"v":-350},
{"p":9,"d":160,"e":2,"v":-130},{"p":9,"d":160,"e":4,"v":-230},{"p":9,"d":160,"e":6,"v":-275},{"p":9,"d":160,"e":8,"v":-310},{"p":9,"d":160,"e":10,"v":-335},{"p":9,"d":160,"e":12,"v":-360},{"p":9,"d":160,"e":14,"v":-380},{"p":9,"d":160,"e":16,"v":-390},{"p":9,"d":160,"e":18,"v":-395},{"p":9,"d":160,"e":20,"v":-390},
{"p":9,"d":140,"e":2,"v":-130},{"p":9,"d":140,"e":4,"v":-235},{"p":9,"d":140,"e":6,"v":-280},{"p":9,"d":140,"e":8,"v":-320},{"p":9,"d":140,"e":10,"v":-350},{"p":9,"d":140,"e":12,"v":-385},{"p":9,"d":140,"e":14,"v":-410},{"p":9,"d":140,"e":16,"v":-425},{"p":9,"d":140,"e":18,"v":-435},{"p":9,"d":140,"e":20,"v":-440},
{"p":9,"d":120,"e":2,"v":-130},{"p":9,"d":120,"e":4,"v":-235},{"p":9,"d":120,"e":6,"v":-290},{"p":9,"d":120,"e":8,"v":-335},{"p":9,"d":120,"e":10,"v":-370},{"p":9,"d":120,"e":12,"v":-405},{"p":9,"d":120,"e":14,"v":-430},{"p":9,"d":120,"e":16,"v":-450},{"p":9,"d":120,"e":18,"v":-465},{"p":9,"d":120,"e":20,"v":-470},
{"p":9,"d":100,"e":2,"v":-130},{"p":9,"d":100,"e":4,"v":-240},{"p":9,"d":100,"e":6,"v":-300},{"p":9,"d":100,"e":8,"v":-360},{"p":9,"d":100,"e":10,"v":-410},{"p":9,"d":100,"e":12,"v":-460},{"p":9,"d":100,"e":14,"v":-500},{"p":9,"d":100,"e":16,"v":-530},{"p":9,"d":100,"e":18,"v":-560},{"p":9,"d":100,"e":20,"v":-575},
{"p":9,"d":80,"e":2,"v":-130},{"p":9,"d":80,"e":4,"v":-245},{"p":9,"d":80,"e":6,"v":-310},{"p":9,"d":80,"e":8,"v":-380},{"p":9,"d":80,"e":10,"v":-440},{"p":9,"d":80,"e":12,"v":-500},{"p":9,"d":80,"e":14,"v":-550},{"p":9,"d":80,"e":16,"v":-600},{"p":9,"d":80,"e":18,"v":-640},{"p":9,"d":80,"e":20,"v":-660},
{"p":9,"d":60,"e":2,"v":-130},{"p":9,"d":60,"e":4,"v":-245},{"p":9,"d":60,"e":6,"v":-320},{"p":9,"d":60,"e":8,"v":-390},{"p":9,"d":60,"e":10,"v":-460},{"p":9,"d":60,"e":12,"v":-520},{"p":9,"d":60,"e":14,"v":-570},{"p":9,"d":60,"e":16,"v":-620},{"p":9,"d":60,"e":18,"v":-660},{"p":9,"d":60,"e":20,"v":-680},
{"p":9,"d":40,"e":2,"v":-120},{"p":9,"d":40,"e":4,"v":-230},{"p":9,"d":40,"e":6,"v":-300},{"p":9,"d":40,"e":8,"v":-370},{"p":9,"d":40,"e":10,"v":-430},{"p":9,"d":40,"e":12,"v":-490},{"p":9,"d":40,"e":14,"v":-540},{"p":9,"d":40,"e":16,"v":-590},{"p":9,"d":40,"e":18,"v":-630},{"p":9,"d":40,"e":20,"v":-650},
{"p":9,"d":20,"e":2,"v":-60},{"p":9,"d":20,"e":4,"v":-110},{"p":9,"d":20,"e":6,"v":-160},{"p":9,"d":20,"e":8,"v":-210},{"p":9,"d":20,"e":10,"v":-250},{"p":9,"d":20,"e":12,"v":-310},{"p":9,"d":20,"e":14,"v":-350},{"p":9,"d":20,"e":16,"v":-390},{"p":9,"d":20,"e":18,"v":-430},{"p":9,"d":20,"e":20,"v":-470},
{"p":10,"d":200,"e":2,"v":-20},{"p":10,"d":200,"e":4,"v":-15},{"p":10,"d":200,"e":6,"v":-10},{"p":10,"d":200,"e":8,"v":-5},{"p":10,"d":200,"e":10,"v":0},{"p":10,"d":200,"e":12,"v":5},{"p":10,"d":200,"e":14,"v":15},{"p":10,"d":200,"e":16,"v":25},{"p":10,"d":200,"e":18,"v":35},{"p":10,"d":200,"e":20,"v":50},
{"p":10,"d":180,"e":2,"v":-20},{"p":10,"d":180,"e":4,"v":-15},{"p":10,"d":180,"e":6,"v":-10},{"p":10,"d":180,"e":8,"v":-5},{"p":10,"d":180,"e":10,"v":0},{"p":10,"d":180,"e":12,"v":5},{"p":10,"d":180,"e":14,"v":10},{"p":10,"d":180,"e":16,"v":15},{"p":10,"d":180,"e":18,"v":25},{"p":10,"d":180,"e":20,"v":35},
{"p":10,"d":160,"e":2,"v":-25},{"p":10,"d":160,"e":4,"v":-25},{"p":10,"d":160,"e":6,"v":-20},{"p":10,"d":160,"e":8,"v":-15},{"p":10,"d":160,"e":10,"v":-10},{"p":10,"d":160,"e":12,"v":-5},{"p":10,"d":160,"e":14,"v":0},{"p":10,"d":160,"e":16,"v":5},{"p":10,"d":160,"e":18,"v":10},{"p":10,"d":160,"e":20,"v":15},
{"p":10,"d":140,"e":2,"v":-30},{"p":10,"d":140,"e":4,"v":-30},{"p":10,"d":140,"e":6,"v":-30},{"p":10,"d":140,"e":8,"v":-30},{"p":10,"d":140,"e":10,"v":-30},{"p":10,"d":140,"e":12,"v":-25},{"p":10,"d":140,"e":14,"v":-25},{"p":10,"d":140,"e":16,"v":-20},{"p":10,"d":140,"e":18,"v":-20},{"p":10,"d":140,"e":20,"v":-15},
{"p":10,"d":120,"e":2,"v":-30},{"p":10,"d":120,"e":4,"v":-35},{"p":10,"d":120,"e":6,"v":-40},{"p":10,"d":120,"e":8,"v":-40},{"p":10,"d":120,"e":10,"v":-45},{"p":10,"d":120,"e":12,"v":-45},{"p":10,"d":120,"e":14,"v":-45},{"p":10,"d":120,"e":16,"v":-45},{"p":10,"d":120,"e":18,"v":-45},{"p":10,"d":120,"e":20,"v":-45},
{"p":10,"d":100,"e":2,"v":-30},{"p":10,"d":100,"e":4,"v":-40},{"p":10,"d":100,"e":6,"v":-50},{"p":10,"d":100,"e":8,"v":-55},{"p":10,"d":100,"e":10,"v":-60},{"p":10,"d":100,"e":12,"v":-65},{"p":10,"d":100,"e":14,"v":-70},{"p":10,"d":100,"e":16,"v":-75},{"p":10,"d":100,"e":18,"v":-80},{"p":10,"d":100,"e":20,"v":-85},
{"p":10,"d":80,"e":2,"v":-35},{"p":10,"d":80,"e":4,"v":-50},{"p":10,"d":80,"e":6,"v":-60},{"p":10,"d":80,"e":8,"v":-70},{"p":10,"d":80,"e":10,"v":-80},{"p":10,"d":80,"e":12,"v":-90},{"p":10,"d":80,"e":14,"v":-100},{"p":10,"d":80,"e":16,"v":-110},{"p":10,"d":80,"e":18,"v":-120},{"p":10,"d":80,"e":20,"v":-130},
{"p":10,"d":60,"e":2,"v":-35},{"p":10,"d":60,"e":4,"v":-55},{"p":10,"d":60,"e":6,"v":-70},{"p":10,"d":60,"e":8,"v":-85},{"p":10,"d":60,"e":10,"v":-100},{"p":10,"d":60,"e":12,"v":-115},{"p":10,"d":60,"e":14,"v":-130},{"p":10,"d":60,"e":16,"v":-140},{"p":10,"d":60,"e":18,"v":-150},{"p":10,"d":60,"e":20,"v":-165},
{"p":10,"d":40,"e":2,"v":-35},{"p":10,"d":40,"e":4,"v":-55},{"p":10,"d":40,"e":6,"v":-70},{"p":10,"d":40,"e":8,"v":-85},{"p":10,"d":40,"e":10,"v":-100},{"p":10,"d":40,"e":12,"v":-115},{"p":10,"d":40,"e":14,"v":-130},{"p":10,"d":40,"e":16,"v":-145},{"p":10,"d":40,"e":18,"v":-155},{"p":10,"d":40,"e":20,"v":-170},
{"p":10,"d":20,"e":2,"v":-25},{"p":10,"d":20,"e":4,"v":-35},{"p":10,"d":20,"e":6,"v":-50},{"p":10,"d":20,"e":8,"v":-60},{"p":10,"d":20,"e":10,"v":-75},{"p":10,"d":20,"e":12,"v":-85},{"p":10,"d":20,"e":14,"v":-100},{"p":10,"d":20,"e":16,"v":-110},{"p":10,"d":20,"e":18,"v":-125},{"p":10,"d":20,"e":20,"v":-140},
{"p":11,"d":200,"e":2,"v":-20},{"p":11,"d":200,"e":4,"v":-15},{"p":11,"d":200,"e":6,"v":-5},{"p":11,"d":200,"e":8,"v":0},{"p":11,"d":200,"e":10,"v":10},{"p":11,"d":200,"e":12,"v":20},{"p":11,"d":200,"e":14,"v":35},{"p":11,"d":200,"e":16,"v":50},{"p":11,"d":200,"e":18,"v":65},{"p":11,"d":200,"e":20,"v":80},
{"p":11,"d":180,"e":2,"v":-25},{"p":11,"d":180,"e":4,"v":-20},{"p":11,"d":180,"e":6,"v":-15},{"p":11,"d":180,"e":8,"v":-5},{"p":11,"d":180,"e":10,"v":0},{"p":11,"d":180,"e":12,"v":10},{"p":11,"d":180,"e":14,"v":20},{"p":11,"d":180,"e":16,"v":30},{"p":11,"d":180,"e":18,"v":45},{"p":11,"d":180,"e":20,"v":60},
{"p":11,"d":160,"e":2,"v":-35},{"p":11,"d":160,"e":4,"v":-35},{"p":11,"d":160,"e":6,"v":-30},{"p":11,"d":160,"e":8,"v":-25},{"p":11,"d":160,"e":10,"v":-20},{"p":11,"d":160,"e":12,"v":-15},{"p":11,"d":160,"e":14,"v":-10},{"p":11,"d":160,"e":16,"v":0},{"p":11,"d":160,"e":18,"v":5},{"p":11,"d":160,"e":20,"v":15},
{"p":11,"d":140,"e":2,"v":-40},{"p":11,"d":140,"e":4,"v":-45},{"p":11,"d":140,"e":6,"v":-45},{"p":11,"d":140,"e":8,"v":-45},{"p":11,"d":140,"e":10,"v":-45},{"p":11,"d":140,"e":12,"v":-45},{"p":11,"d":140,"e":14,"v":-40},{"p":11,"d":140,"e":16,"v":-40},{"p":11,"d":140,"e":18,"v":-35},{"p":11,"d":140,"e":20,"v":-30},
{"p":11,"d":120,"e":2,"v":-40},{"p":11,"d":120,"e":4,"v":-50},{"p":11,"d":120,"e":6,"v":-60},{"p":11,"d":120,"e":8,"v":-65},{"p":11,"d":120,"e":10,"v":-70},{"p":11,"d":120,"e":12,"v":-75},{"p":11,"d":120,"e":14,"v":-75},{"p":11,"d":120,"e":16,"v":-75},{"p":11,"d":120,"e":18,"v":-75},{"p":11,"d":120,"e":20,"v":-70},
{"p":11,"d":100,"e":2,"v":-45},{"p":11,"d":100,"e":4,"v":-60},{"p":11,"d":100,"e":6,"v":-80},{"p":11,"d":100,"e":8,"v":-95},{"p":11,"d":100,"e":10,"v":-105},{"p":11,"d":100,"e":12,"v":-115},{"p":11,"d":100,"e":14,"v":-125},{"p":11,"d":100,"e":16,"v":-130},{"p":11,"d":100,"e":18,"v":-135},{"p":11,"d":100,"e":20,"v":-140},
{"p":11,"d":80,"e":2,"v":-45},{"p":11,"d":80,"e":4,"v":-70},{"p":11,"d":80,"e":6,"v":-95},{"p":11,"d":80,"e":8,"v":-120},{"p":11,"d":80,"e":10,"v":-140},{"p":11,"d":80,"e":12,"v":-160},{"p":11,"d":80,"e":14,"v":-175},{"p":11,"d":80,"e":16,"v":-190},{"p":11,"d":80,"e":18,"v":-200},{"p":11,"d":80,"e":20,"v":-210},
{"p":11,"d":60,"e":2,"v":-50},{"p":11,"d":60,"e":4,"v":-75},{"p":11,"d":60,"e":6,"v":-105},{"p":11,"d":60,"e":8,"v":-135},{"p":11,"d":60,"e":10,"v":-160},{"p":11,"d":60,"e":12,"v":-185},{"p":11,"d":60,"e":14,"v":-210},{"p":11,"d":60,"e":16,"v":-230},{"p":11,"d":60,"e":18,"v":-250},{"p":11,"d":60,"e":20,"v":-265},
{"p":11,"d":40,"e":2,"v":-45},{"p":11,"d":40,"e":4,"v":-75},{"p":11,"d":40,"e":6,"v":-105},{"p":11,"d":40,"e":8,"v":-135},{"p":11,"d":40,"e":10,"v":-165},{"p":11,"d":40,"e":12,"v":-190},{"p":11,"d":40,"e":14,"v":-215},{"p":11,"d":40,"e":16,"v":-240},{"p":11,"d":40,"e":18,"v":-260},{"p":11,"d":40,"e":20,"v":-275},
{"p":11,"d":20,"e":2,"v":-30},{"p":11,"d":20,"e":4,"v":-50},{"p":11,"d":20,"e":6,"v":-70},{"p":11,"d":20,"e":8,"v":-90},{"p":11,"d":20,"e":10,"v":-110},{"p":11,"d":20,"e":12,"v":-135},{"p":11,"d":20,"e":14,"v":-160},{"p":11,"d":20,"e":16,"v":-180},{"p":11,"d":20,"e":18,"v":-200},{"p":11,"d":20,"e":20,"v":-220},
{"p":12,"d":200,"e":2,"v":-15},{"p":12,"d":200,"e":4,"v":0},{"p":12,"d":200,"e":6,"v":30},{"p":12,"d":200,"e":8,"v":70},{"p":12,"d":200,"e":10,"v":80},{"p":12,"d":200,"e":12,"v":120},{"p":12,"d":200,"e":14,"v":140},{"p":12,"d":200,"e":16,"v":170},{"p":12,"d":200,"e":18,"v":195},{"p":12,"d":200,"e":20,"v":215},
{"p":12,"d":180,"e":2,"v":-20},{"p":12,"d":180,"e":4,"v":-10},{"p":12,"d":180,"e":6,"v":10},{"p":12,"d":180,"e":8,"v":40},{"p":12,"d":180,"e":10,"v":60},{"p":12,"d":180,"e":12,"v":90},{"p":12,"d":180,"e":14,"v":110},{"p":12,"d":180,"e":16,"v":140},{"p":12,"d":180,"e":18,"v":160},{"p":12,"d":180,"e":20,"v":190},
{"p":12,"d":160,"e":2,"v":-30},{"p":12,"d":160,"e":4,"v":-20},{"p":12,"d":160,"e":6,"v":-5},{"p":12,"d":160,"e":8,"v":10},{"p":12,"d":160,"e":10,"v":25},{"p":12,"d":160,"e":12,"v":45},{"p":12,"d":160,"e":14,"v":60},{"p":12,"d":160,"e":16,"v":85},{"p":12,"d":160,"e":18,"v":110},{"p":12,"d":160,"e":20,"v":140},
{"p":12,"d":140,"e":2,"v":-40},{"p":12,"d":140,"e":4,"v":-40},{"p":12,"d":140,"e":6,"v":-30},{"p":12,"d":140,"e":8,"v":-25},{"p":12,"d":140,"e":10,"v":-15},{"p":12,"d":140,"e":12,"v":0},{"p":12,"d":140,"e":14,"v":10},{"p":12,"d":140,"e":16,"v":25},{"p":12,"d":140,"e":18,"v":40},{"p":12,"d":140,"e":20,"v":60},
{"p":12,"d":120,"e":2,"v":-45},{"p":12,"d":120,"e":4,"v":-55},{"p":12,"d":120,"e":6,"v":-60},{"p":12,"d":120,"e":8,"v":-60},{"p":12,"d":120,"e":10,"v":-60},{"p":12,"d":120,"e":12,"v":-55},{"p":12,"d":120,"e":14,"v":-50},{"p":12,"d":120,"e":16,"v":-40},{"p":12,"d":120,"e":18,"v":-30},{"p":12,"d":120,"e":20,"v":-20},
{"p":12,"d":100,"e":2,"v":-50},{"p":12,"d":100,"e":4,"v":-70},{"p":12,"d":100,"e":6,"v":-85},{"p":12,"d":100,"e":8,"v":-100},{"p":12,"d":100,"e":10,"v":-110},{"p":12,"d":100,"e":12,"v":-115},{"p":12,"d":100,"e":14,"v":-120},{"p":12,"d":100,"e":16,"v":-120},{"p":12,"d":100,"e":18,"v":-120},{"p":12,"d":100,"e":20,"v":-115},
{"p":12,"d":80,"e":2,"v":-55},{"p":12,"d":80,"e":4,"v":-80},{"p":12,"d":80,"e":6,"v":-110},{"p":12,"d":80,"e":8,"v":-135},{"p":12,"d":80,"e":10,"v":-155},{"p":12,"d":80,"e":12,"v":-175},{"p":12,"d":80,"e":14,"v":-190},{"p":12,"d":80,"e":16,"v":-200},{"p":12,"d":80,"e":18,"v":-210},{"p":12,"d":80,"e":20,"v":-215},
{"p":12,"d":60,"e":2,"v":-55},{"p":12,"d":60,"e":4,"v":-90},{"p":12,"d":60,"e":6,"v":-125},{"p":12,"d":60,"e":8,"v":-160},{"p":12,"d":60,"e":10,"v":-195},{"p":12,"d":60,"e":12,"v":-230},{"p":12,"d":60,"e":14,"v":-260},{"p":12,"d":60,"e":16,"v":-285},{"p":12,"d":60,"e":18,"v":-310},{"p":12,"d":60,"e":20,"v":-330},
{"p":12,"d":40,"e":2,"v":-55},{"p":12,"d":40,"e":4,"v":-90},{"p":12,"d":40,"e":6,"v":-130},{"p":12,"d":40,"e":8,"v":-170},{"p":12,"d":40,"e":10,"v":-210},{"p":12,"d":40,"e":12,"v":-250},{"p":12,"d":40,"e":14,"v":-285},{"p":12,"d":40,"e":16,"v":-320},{"p":12,"d":40,"e":18,"v":-350},{"p":12,"d":40,"e":20,"v":-370},
{"p":12,"d":20,"e":2,"v":-40},{"p":12,"d":20,"e":4,"v":-65},{"p":12,"d":20,"e":6,"v":-90},{"p":12,"d":20,"e":8,"v":-120},{"p":12,"d":20,"e":10,"v":-150},{"p":12,"d":20,"e":12,"v":-175},{"p":12,"d":20,"e":14,"v":-200},{"p":12,"d":20,"e":16,"v":-225},{"p":12,"d":20,"e":18,"v":-250},{"p":12,"d":20,"e":20,"v":-275},
{"p":13,"d":200,"e":2,"v":-10},{"p":13,"d":200,"e":4,"v":-5},{"p":13,"d":200,"e":6,"v":0},{"p":13,"d":200,"e":8,"v":5},{"p":13,"d":200,"e":10,"v":10},{"p":13,"d":200,"e":12,"v":15},{"p":13,"d":200,"e":14,"v":20},{"p":13,"d":200,"e":16,"v":25},{"p":13,"d":200,"e":18,"v":30},{"p":13,"d":200,"e":20,"v":35},
{"p":13,"d":180,"e":2,"v":-15},{"p":13,"d":180,"e":4,"v":-10},{"p":13,"d":180,"e":6,"v":-5},{"p":13,"d":180,"e":8,"v":0},{"p":13,"d":180,"e":10,"v":5},{"p":13,"d":180,"e":12,"v":10},{"p":13,"d":180,"e":14,"v":15},{"p":13,"d":180,"e":16,"v":20},{"p":13,"d":180,"e":18,"v":25},{"p":13,"d":180,"e":20,"v":30},
{"p":13,"d":160,"e":2,"v":-20},{"p":13,"d":160,"e":4,"v":-15},{"p":13,"d":160,"e":6,"v":-10},{"p":13,"d":160,"e":8,"v":-5},{"p":13,"d":160,"e":10,"v":0},{"p":13,"d":160,"e":12,"v":5},{"p":13,"d":160,"e":14,"v":10},{"p":13,"d":160,"e":16,"v":15},{"p":13,"d":160,"e":18,"v":20},{"p":13,"d":160,"e":20,"v":25},
{"p":13,"d":140,"e":2,"v":-20},{"p":13,"d":140,"e":4,"v":-20},{"p":13,"d":140,"e":6,"v":-15},{"p":13,"d":140,"e":8,"v":-15},{"p":13,"d":140,"e":10,"v":-10},{"p":13,"d":140,"e":12,"v":-5},{"p":13,"d":140,"e":14,"v":0},{"p":13,"d":140,"e":16,"v":0},{"p":13,"d":140,"e":18,"v":5},{"p":13,"d":140,"e":20,"v":5},
{"p":13,"d":120,"e":2,"v":-25},{"p":13,"d":120,"e":4,"v":-25},{"p":13,"d":120,"e":6,"v":-25},{"p":13,"d":120,"e":8,"v":-25},{"p":13,"d":120,"e":10,"v":-25},{"p":13,"d":120,"e":12,"v":-20},{"p":13,"d":120,"e":14,"v":-20},{"p":13,"d":120,"e":16,"v":-20},{"p":13,"d":120,"e":18,"v":-15},{"p":13,"d":120,"e":20,"v":-15},
{"p":13,"d":100,"e":2,"v":-25},{"p":13,"d":100,"e":4,"v":-30},{"p":13,"d":100,"e":6,"v":-35},{"p":13,"d":100,"e":8,"v":-35},{"p":13,"d":100,"e":10,"v":-40},{"p":13,"d":100,"e":12,"v":-40},{"p":13,"d":100,"e":14,"v":-40},{"p":13,"d":100,"e":16,"v":-40},{"p":13,"d":100,"e":18,"v":-40},{"p":13,"d":100,"e":20,"v":-40},
{"p":13,"d":80,"e":2,"v":-25},{"p":13,"d":80,"e":4,"v":-35},{"p":13,"d":80,"e":6,"v":-40},{"p":13,"d":80,"e":8,"v":-45},{"p":13,"d":80,"e":10,"v":-50},{"p":13,"d":80,"e":12,"v":-55},{"p":13,"d":80,"e":14,"v":-60},{"p":13,"d":80,"e":16,"v":-60},{"p":13,"d":80,"e":18,"v":-65},{"p":13,"d":80,"e":20,"v":-65},
{"p":13,"d":60,"e":2,"v":-25},{"p":13,"d":60,"e":4,"v":-35},{"p":13,"d":60,"e":6,"v":-45},{"p":13,"d":60,"e":8,"v":-55},{"p":13,"d":60,"e":10,"v":-60},{"p":13,"d":60,"e":12,"v":-70},{"p":13,"d":60,"e":14,"v":-75},{"p":13,"d":60,"e":16,"v":-80},{"p":13,"d":60,"e":18,"v":-85},{"p":13,"d":60,"e":20,"v":-90},
{"p":13,"d":40,"e":2,"v":-25},{"p":13,"d":40,"e":4,"v":-35},{"p":13,"d":40,"e":6,"v":-45},{"p":13,"d":40,"e":8,"v":-55},{"p":13,"d":40,"e":10,"v":-60},{"p":13,"d":40,"e":12,"v":-70},{"p":13,"d":40,"e":14,"v":-80},{"p":13,"d":40,"e":16,"v":-85},{"p":13,"d":40,"e":18,"v":-90},{"p":13,"d":40,"e":20,"v":-95},
{"p":13,"d":20,"e":2,"v":-20},{"p":13,"d":20,"e":4,"v":-30},{"p":13,"d":20,"e":6,"v":-35},{"p":13,"d":20,"e":8,"v":-45},{"p":13,"d":20,"e":10,"v":-50},{"p":13,"d":20,"e":12,"v":-55},{"p":13,"d":20,"e":14,"v":-60},{"p":13,"d":20,"e":16,"v":-65},{"p":13,"d":20,"e":18,"v":-75},{"p":13,"d":20,"e":20,"v":-80},
{"p":14,"d":200,"e":2,"v":-10},{"p":14,"d":200,"e":4,"v":-5},{"p":14,"d":200,"e":6,"v":5},{"p":14,"d":200,"e":8,"v":15},{"p":14,"d":200,"e":10,"v":30},{"p":14,"d":200,"e":12,"v":45},{"p":14,"d":200,"e":14,"v":60},{"p":14,"d":200,"e":16,"v":75},{"p":14,"d":200,"e":18,"v":95},{"p":14,"d":200,"e":20,"v":110},
{"p":14,"d":180,"e":2,"v":-15},{"p":14,"d":180,"e":4,"v":-10},{"p":14,"d":180,"e":6,"v":-5},{"p":14,"d":180,"e":8,"v":5},{"p":14,"d":180,"e":10,"v":15},{"p":14,"d":180,"e":12,"v":30},{"p":14,"d":180,"e":14,"v":40},{"p":14,"d":180,"e":16,"v":55},{"p":14,"d":180,"e":18,"v":70},{"p":14,"d":180,"e":20,"v":80},
{"p":14,"d":160,"e":2,"v":-20},{"p":14,"d":160,"e":4,"v":-20},{"p":14,"d":160,"e":6,"v":-15},{"p":14,"d":160,"e":8,"v":-10},{"p":14,"d":160,"e":10,"v":0},{"p":14,"d":160,"e":12,"v":10},{"p":14,"d":160,"e":14,"v":20},{"p":14,"d":160,"e":16,"v":35},{"p":14,"d":160,"e":18,"v":50},{"p":14,"d":160,"e":20,"v":65},
{"p":14,"d":140,"e":2,"v":-25},{"p":14,"d":140,"e":4,"v":-30},{"p":14,"d":140,"e":6,"v":-30},{"p":14,"d":140,"e":8,"v":-25},{"p":14,"d":140,"e":10,"v":-20},{"p":14,"d":140,"e":12,"v":-15},{"p":14,"d":140,"e":14,"v":-5},{"p":14,"d":140,"e":16,"v":5},{"p":14,"d":140,"e":18,"v":20},{"p":14,"d":140,"e":20,"v":30},
{"p":14,"d":120,"e":2,"v":-30},{"p":14,"d":120,"e":4,"v":-35},{"p":14,"d":120,"e":6,"v":-40},{"p":14,"d":120,"e":8,"v":-40},{"p":14,"d":120,"e":10,"v":-40},{"p":14,"d":120,"e":12,"v":-40},{"p":14,"d":120,"e":14,"v":-35},{"p":14,"d":120,"e":16,"v":-30},{"p":14,"d":120,"e":18,"v":-25},{"p":14,"d":120,"e":20,"v":-15},
{"p":14,"d":100,"e":2,"v":-30},{"p":14,"d":100,"e":4,"v":-40},{"p":14,"d":100,"e":6,"v":-50},{"p":14,"d":100,"e":8,"v":-60},{"p":14,"d":100,"e":10,"v":-65},{"p":14,"d":100,"e":12,"v":-70},{"p":14,"d":100,"e":14,"v":-70},{"p":14,"d":100,"e":16,"v":-70},{"p":14,"d":100,"e":18,"v":-70},{"p":14,"d":100,"e":20,"v":-65},
{"p":14,"d":80,"e":2,"v":-30},{"p":14,"d":80,"e":4,"v":-45},{"p":14,"d":80,"e":6,"v":-60},{"p":14,"d":80,"e":8,"v":-75},{"p":14,"d":80,"e":10,"v":-85},{"p":14,"d":80,"e":12,"v":-95},{"p":14,"d":80,"e":14,"v":-100},{"p":14,"d":80,"e":16,"v":-110},{"p":14,"d":80,"e":18,"v":-115},{"p":14,"d":80,"e":20,"v":-120},
{"p":14,"d":60,"e":2,"v":-30},{"p":14,"d":60,"e":4,"v":-50},{"p":14,"d":60,"e":6,"v":-70},{"p":14,"d":60,"e":8,"v":-90},{"p":14,"d":60,"e":10,"v":-105},{"p":14,"d":60,"e":12,"v":-120},{"p":14,"d":60,"e":14,"v":-135},{"p":14,"d":60,"e":16,"v":-145},{"p":14,"d":60,"e":18,"v":-155},{"p":14,"d":60,"e":20,"v":-165},
{"p":14,"d":40,"e":2,"v":-30},{"p":14,"d":40,"e":4,"v":-50},{"p":14,"d":40,"e":6,"v":-70},{"p":14,"d":40,"e":8,"v":-90},{"p":14,"d":40,"e":10,"v":-110},{"p":14,"d":40,"e":12,"v":-130},{"p":14,"d":40,"e":14,"v":-150},{"p":14,"d":40,"e":16,"v":-160},{"p":14,"d":40,"e":18,"v":-175},{"p":14,"d":40,"e":20,"v":-185},
{"p":14,"d":20,"e":2,"v":-20},{"p":14,"d":20,"e":4,"v":-40},{"p":14,"d":20,"e":6,"v":-55},{"p":14,"d":20,"e":8,"v":-70},{"p":14,"d":20,"e":10,"v":-85},{"p":14,"d":20,"e":12,"v":-100},{"p":14,"d":20,"e":14,"v":-115},{"p":14,"d":20,"e":16,"v":-130},{"p":14,"d":20,"e":18,"v":-145},{"p":14,"d":20,"e":20,"v":-160},
{"p":15,"d":200,"e":2,"v":-5},{"p":15,"d":200,"e":4,"v":5},{"p":15,"d":200,"e":6,"v":40},{"p":15,"d":200,"e":8,"v":70},{"p":15,"d":200,"e":10,"v":100},{"p":15,"d":200,"e":12,"v":130},{"p":15,"d":200,"e":14,"v":145},{"p":15,"d":200,"e":16,"v":170},{"p":15,"d":200,"e":18,"v":195},{"p":15,"d":200,"e":20,"v":210},
{"p":15,"d":180,"e":2,"v":-10},{"p":15,"d":180,"e":4,"v":0},{"p":15,"d":180,"e":6,"v":30},{"p":15,"d":180,"e":8,"v":55},{"p":15,"d":180,"e":10,"v":80},{"p":15,"d":180,"e":12,"v":110},{"p":15,"d":180,"e":14,"v":130},{"p":15,"d":180,"e":16,"v":150},{"p":15,"d":180,"e":18,"v":175},{"p":15,"d":180,"e":20,"v":195},
{"p":15,"d":160,"e":2,"v":-15},{"p":15,"d":160,"e":4,"v":-5},{"p":15,"d":160,"e":6,"v":15},{"p":15,"d":160,"e":8,"v":35},{"p":15,"d":160,"e":10,"v":55},{"p":15,"d":160,"e":12,"v":80},{"p":15,"d":160,"e":14,"v":100},{"p":15,"d":160,"e":16,"v":125},{"p":15,"d":160,"e":18,"v":150},{"p":15,"d":160,"e":20,"v":170},
{"p":15,"d":140,"e":2,"v":-20},{"p":15,"d":140,"e":4,"v":-15},{"p":15,"d":140,"e":6,"v":0},{"p":15,"d":140,"e":8,"v":15},{"p":15,"d":140,"e":10,"v":30},{"p":15,"d":140,"e":12,"v":45},{"p":15,"d":140,"e":14,"v":65},{"p":15,"d":140,"e":16,"v":85},{"p":15,"d":140,"e":18,"v":105},{"p":15,"d":140,"e":20,"v":125},
{"p":15,"d":120,"e":2,"v":-25},{"p":15,"d":120,"e":4,"v":-30},{"p":15,"d":120,"e":6,"v":-25},{"p":15,"d":120,"e":8,"v":-20},{"p":15,"d":120,"e":10,"v":-10},{"p":15,"d":120,"e":12,"v":0},{"p":15,"d":120,"e":14,"v":10},{"p":15,"d":120,"e":16,"v":25},{"p":15,"d":120,"e":18,"v":40},{"p":15,"d":120,"e":20,"v":55},
{"p":15,"d":100,"e":2,"v":-30},{"p":15,"d":100,"e":4,"v":-40},{"p":15,"d":100,"e":6,"v":-45},{"p":15,"d":100,"e":8,"v":-50},{"p":15,"d":100,"e":10,"v":-50},{"p":15,"d":100,"e":12,"v":-50},{"p":15,"d":100,"e":14,"v":-50},{"p":15,"d":100,"e":16,"v":-45},{"p":15,"d":100,"e":18,"v":-40},{"p":15,"d":100,"e":20,"v":-35},
{"p":15,"d":80,"e":2,"v":-30},{"p":15,"d":80,"e":4,"v":-50},{"p":15,"d":80,"e":6,"v":-65},{"p":15,"d":80,"e":8,"v":-80},{"p":15,"d":80,"e":10,"v":-95},{"p":15,"d":80,"e":12,"v":-105},{"p":15,"d":80,"e":14,"v":-115},{"p":15,"d":80,"e":16,"v":-120},{"p":15,"d":80,"e":18,"v":-125},{"p":15,"d":80,"e":20,"v":-125},
{"p":15,"d":60,"e":2,"v":-35},{"p":15,"d":60,"e":4,"v":-55},{"p":15,"d":60,"e":6,"v":-80},{"p":15,"d":60,"e":8,"v":-100},{"p":15,"d":60,"e":10,"v":-125},{"p":15,"d":60,"e":12,"v":-145},{"p":15,"d":60,"e":14,"v":-160},{"p":15,"d":60,"e":16,"v":-175},{"p":15,"d":60,"e":18,"v":-185},{"p":15,"d":60,"e":20,"v":-195},
{"p":15,"d":40,"e":2,"v":-35},{"p":15,"d":40,"e":4,"v":-60},{"p":15,"d":40,"e":6,"v":-85},{"p":15,"d":40,"e":8,"v":-110},{"p":15,"d":40,"e":10,"v":-135},{"p":15,"d":40,"e":12,"v":-160},{"p":15,"d":40,"e":14,"v":-185},{"p":15,"d":40,"e":16,"v":-200},{"p":15,"d":40,"e":18,"v":-215},{"p":15,"d":40,"e":20,"v":-230},
{"p":15,"d":20,"e":2,"v":-25},{"p":15,"d":20,"e":4,"v":-45},{"p":15,"d":20,"e":6,"v":-65},{"p":15,"d":20,"e":8,"v":-90},{"p":15,"d":20,"e":10,"v":-110},{"p":15,"d":20,"e":12,"v":-130},{"p":15,"d":20,"e":14,"v":-150},{"p":15,"d":20,"e":16,"v":-165},{"p":15,"d":20,"e":18,"v":-180},{"p":15,"d":20,"e":20,"v":-200}
]},
"transform":[{"lookup":"p","from":{"data":{"values":[
{"p":1,"m":"ACCESS-ESM1-5","z":"ZEC₅₀"},{"p":2,"m":"ACCESS-ESM1-5","z":"ZEC₁₀₀"},{"p":3,"m":"ACCESS-ESM1-5","z":"ZEC₂₀₀"},
{"p":4,"m":"CESM2","z":"ZEC₅₀"},{"p":5,"m":"CESM2","z":"ZEC₁₀₀"},{"p":6,"m":"CESM2","z":"ZEC₂₀₀"},
{"p":7,"m":"CNRM-ESM2-1","z":"ZEC₅₀"},{"p":8,"m":"CNRM-ESM2-1","z":"ZEC₁₀₀"},{"p":9,"m":"CNRM-ESM2-1","z":"ZEC₂₀₀"},
{"p":10,"m":"GFDL-ESM4","z":"ZEC₅₀"},{"p":11,"m":"GFDL-ESM4","z":"ZEC₁₀₀"},{"p":12,"m":"GFDL-ESM4","z":"ZEC₂₀₀"},
{"p":13,"m":"GISS","z":"ZEC₅₀"},{"p":14,"m":"GISS","z":"ZEC₁₀₀"},{"p":15,"m":"GISS","z":"ZEC₂₀₀"}
]},"key":"p","fields":["m","z"]}}],
"facet":{
"row":{"field":"m","type":"nominal","sort":["ACCESS-ESM1-5","CESM2","CNRM-ESM2-1","GFDL-ESM4","GISS"],"title":null,"header":{"labelOrient":"left","labelAngle":-90,"labelFontSize":17,"labelPadding":-8,"labelColor":"#262626","labelFont":"Liberation Sans"}},
"column":{"field":"z","type":"nominal","sort":["ZEC₅₀","ZEC₁₀₀","ZEC₂₀₀"],"title":null,"header":{"labelOrient":"top","labelFontSize":21,"labelFontWeight":"bold","labelPadding":8,"labelFont":"DejaVu Sans","labelColor":"#262626"}}
},
"spacing":{"row":17,"column":19},
"spec":{
"width":301,"height":220,
"mark":{"type":"rect","stroke":"white","strokeWidth":1.2},
"encoding":{
"x":{"field":"e","type":"ordinal","scale":{"paddingInner":0,"paddingOuter":0},"axis":{"labelAngle":0,"ticks":false,"domain":false,"labelFontSize":13,"labelPadding":12,"title":"Emission rate (PgC/yr)","titleFontSize":17.5,"titlePadding":7}},
"y":{"field":"d","type":"ordinal","sort":"descending","scale":{"paddingInner":0,"paddingOuter":0},"axis":{"ticks":false,"domain":false,"labelFontSize":13,"labelPadding":13,"title":"Duration (yr)","titleFontSize":17,"titlePadding":8}},
"color":{"field":"v","type":"quantitative","legend":null,"scale":{"domain":[-1123,-898.4,-673.8,-449.2,-224.6,0,224.6,449.2,673.8,898.4,1123],"range":["#053061","#2166ac","#4393c3","#92c5de","#d1e5f0","#f7f7f7","#fddbc7","#f4a582","#d6604d","#b2182b","#67001f"],"interpolate":"rgb"}}
}
}
},
{
"data":{"values":[{"lo":-1123,"hi":1123}]},
"width":15,"height":1153,
"view":{"stroke":null},
"mark":{"type":"rect","stroke":"#cccccc","strokeWidth":1,"color":{"gradient":"linear","x1":0,"y1":1,"x2":0,"y2":0,"stops":[{"offset":0,"color":"#053061"},{"offset":0.1,"color":"#2166ac"},{"offset":0.2,"color":"#4393c3"},{"offset":0.3,"color":"#92c5de"},{"offset":0.4,"color":"#d1e5f0"},{"offset":0.5,"color":"#f7f7f7"},{"offset":0.6,"color":"#fddbc7"},{"offset":0.7,"color":"#f4a582"},{"offset":0.8,"color":"#d6604d"},{"offset":0.9,"color":"#b2182b"},{"offset":1,"color":"#67001f"}]}},
"encoding":{
"y":{"field":"lo","type":"quantitative","scale":{"domain":[-1123,1144.6],"nice":false,"zero":false},"axis":{"orient":"right","values":[-1000,-750,-500,-250,0,250,500,750,1000],"format":"d","grid":false,"domain":false,"tickSize":6,"tickColor":"#262626","labelFontSize":19,"labelPadding":8,"title":"ZEC (mK)","titleFontSize":21,"titleAngle":270,"titleBaseline":"top","titlePadding":12,"labelColor":"#262626"}},
"y2":{"field":"hi"}
}
}
]
}
